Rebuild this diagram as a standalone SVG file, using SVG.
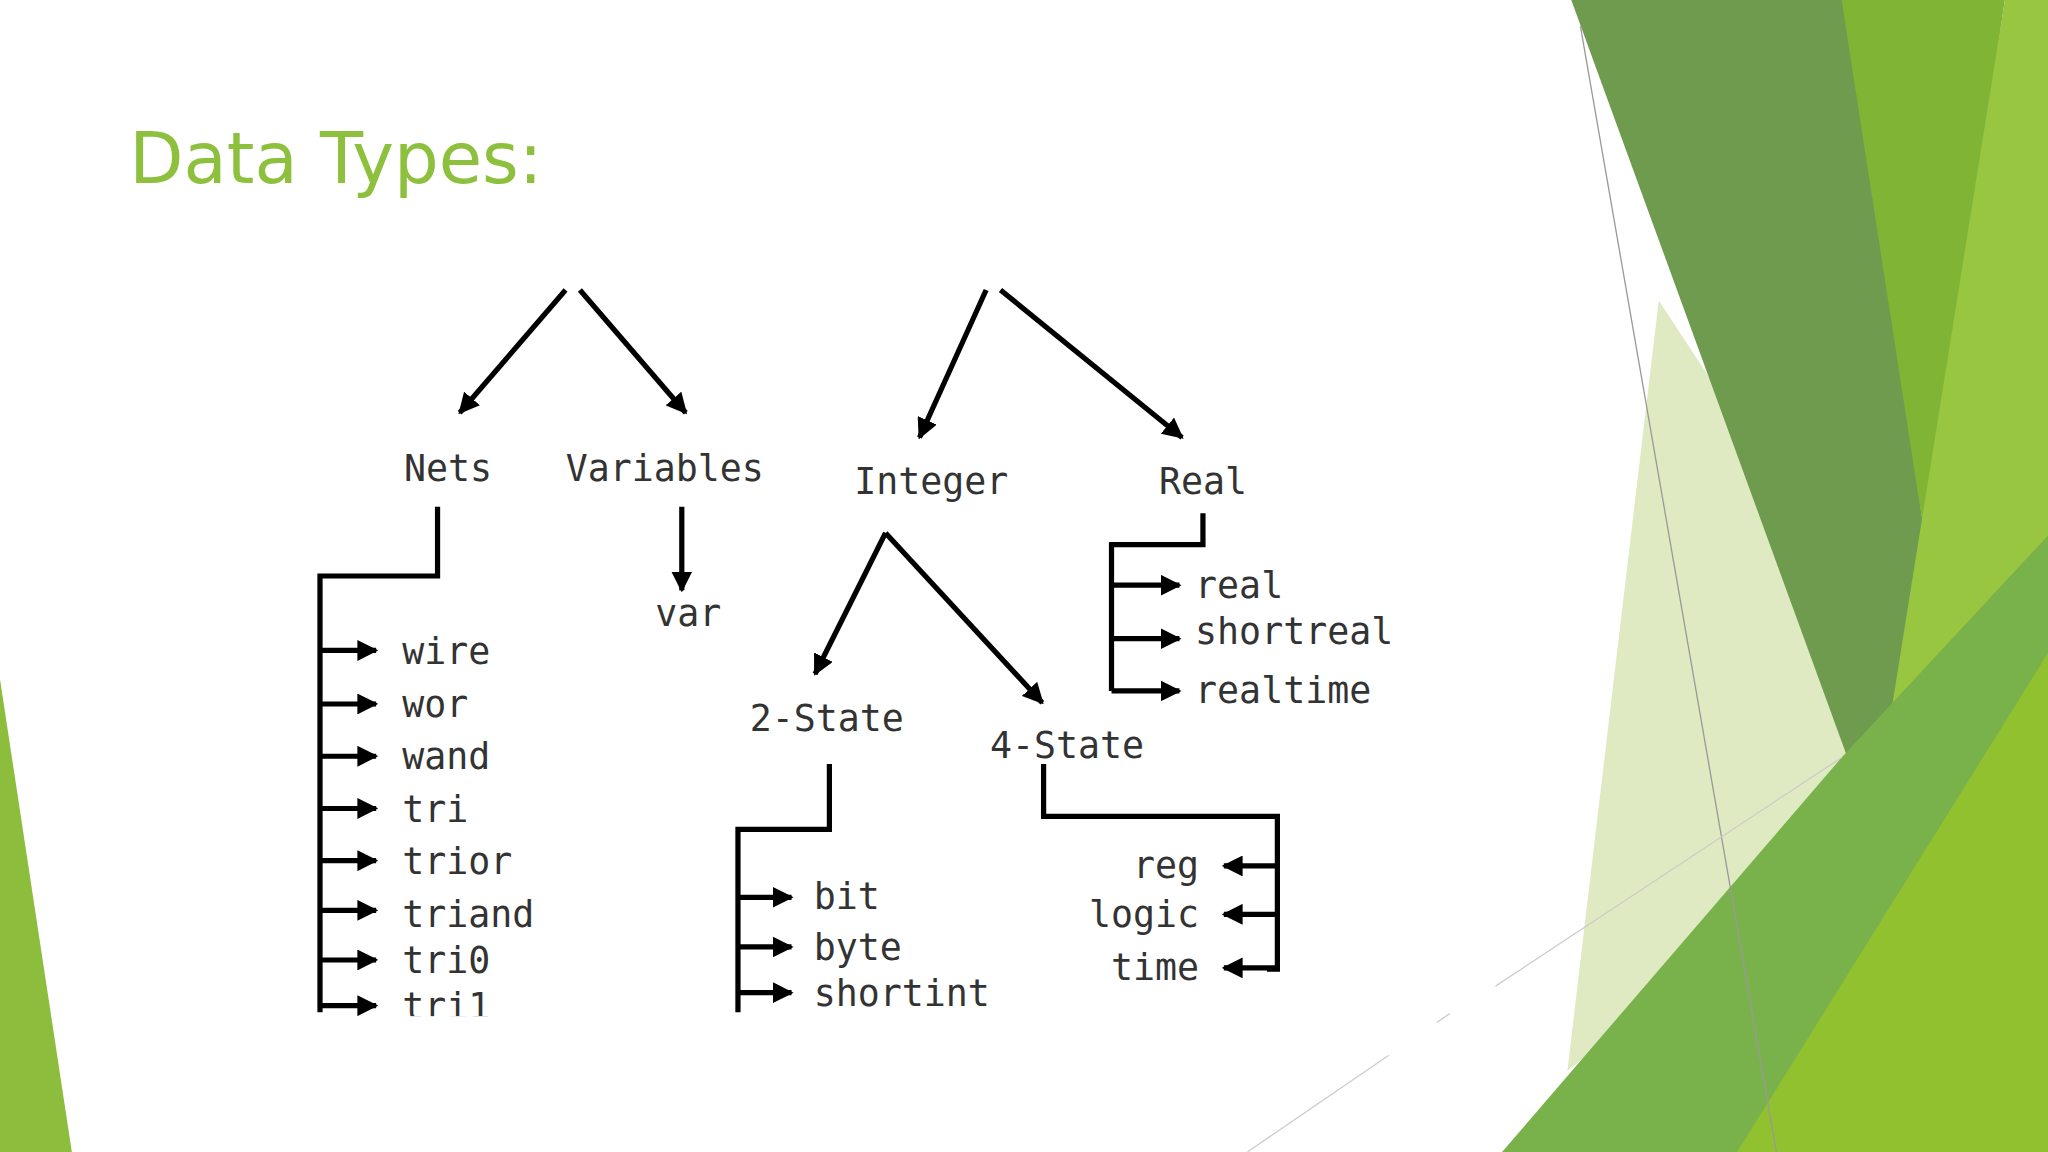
<svg xmlns="http://www.w3.org/2000/svg" width="2048" height="1152" viewBox="0 0 2048 1152">
<defs>
<marker id="ah" viewBox="0 0 10 10" refX="9" refY="5" markerWidth="4" markerHeight="4" orient="auto" markerUnits="strokeWidth"><path d="M0,0 L10,5 L0,10 z" fill="#000"/></marker>
<style>
.c{stroke:#000;stroke-width:4;fill:none}
.a{stroke:#000;stroke-width:4;fill:none;marker-end:url(#ah)}
.t{font-family:"DejaVu Sans Mono","Liberation Mono",monospace;font-size:28px;fill:#333}
.r{text-anchor:end}
.m{text-anchor:middle}
</style>
</defs>
<rect width="2048" height="1152" fill="#fff"/>
<g transform="scale(1.30612)">
<g id="background">
<polygon points="0,520 55,882 0,882" fill="#8dbd3c"/>
<polygon points="1270,230 1500,580 1200,820" fill="#dfeac3"/>
<polygon points="1203,0 1415,0 1475,420 1440,650" fill="#6f9b4e"/>
<polygon points="1410,0 1535,0 1440,650 1475,420" fill="#7fb434"/>
<polygon points="1535,0 1568,0 1568,882 1420,720" fill="#99c640"/>
<polygon points="1150,882 1410,580 1568,410 1568,882" fill="#79b24a"/>
<polygon points="1330,882 1568,500 1568,882" fill="#92c130"/>
<line x1="1210" y1="20" x2="1360" y2="882" stroke="#999" stroke-width="1"/>
<line x1="955" y1="882" x2="1110" y2="776" stroke="#ccc" stroke-width="1"/>
<line x1="1145" y1="755" x2="1410" y2="580" stroke="#ccc" stroke-width="1"/>
</g>
<text id="title" x="99" y="140" font-family="'DejaVu Sans','Noto Sans',sans-serif" font-size="54" fill="#8dc03c">Data Types:</text>
<g id="connectors">
<path class="a" d="M433,222 L352,316"/>
<path class="a" d="M444,222 L525,316"/>
<path class="a" d="M755,222 L704,335"/>
<path class="a" d="M766,222 L905,335"/>
<path class="a" d="M522,388 L522,452"/>
<path class="a" d="M678,408 L624,516"/>
<path class="a" d="M678,408 L798,538"/>
<path class="c" d="M335,388 V441 H245 V775"/>
<path class="a" d="M245,498 H288"/><path class="a" d="M245,539 H288"/><path class="a" d="M245,579 H288"/><path class="a" d="M245,619 H288"/><path class="a" d="M245,659 H288"/><path class="a" d="M245,697 H288"/><path class="a" d="M245,735 H288"/><path class="a" d="M245,770 H288"/>
<path class="c" d="M635,585 V635 H565 V775"/>
<path class="a" d="M565,687 H606"/><path class="a" d="M565,725 H606"/><path class="a" d="M565,760 H606"/>
<path class="c" d="M799,585 V625 H978 V742 H970"/>
<path class="a" d="M978,663 H937"/><path class="a" d="M978,700 H937"/><path class="a" d="M978,741 H937"/>
<path class="c" d="M921,393 V417 H851 V529"/>
<path class="a" d="M851,448 H903"/><path class="a" d="M851,489 H903"/><path class="a" d="M851,529 H903"/>
</g>
<g id="n-nets"><text class="t m" x="343" y="368">Nets</text></g>
<g id="n-variables"><text class="t m" x="509" y="368">Variables</text></g>
<g id="n-integer"><text class="t m" x="713" y="378">Integer</text></g>
<g id="n-real"><text class="t m" x="921" y="378">Real</text></g>
<g id="n-var"><text class="t m" x="527" y="479">var</text></g>
<g id="n-2state"><text class="t m" x="633" y="560">2-State</text></g>
<g id="n-4state"><text class="t m" x="817" y="580">4-State</text></g>
<g id="n-netlist">
<text class="t" x="308" y="508">wire</text><text class="t" x="308" y="549">wor</text><text class="t" x="308" y="589">wand</text><text class="t" x="308" y="629">tri</text><text class="t" x="308" y="669">trior</text><text class="t" x="308" y="710">triand</text><text class="t" x="308" y="745">tri0</text><text class="t" x="308" y="780">tri1</text>
</g>
<g id="n-2list"><text class="t" x="623" y="696">bit</text><text class="t" x="623" y="735">byte</text><text class="t" x="623" y="770">shortint</text></g>
<g id="n-4list"><text class="t r" x="918" y="672">reg</text><text class="t r" x="918" y="710">logic</text><text class="t r" x="918" y="750">time</text></g>
<g id="n-reallist"><text class="t" x="915" y="458">real</text><text class="t" x="915" y="493">shortreal</text><text class="t" x="915" y="538">realtime</text></g>
<rect x="200" y="778" width="900" height="30" fill="#fff"/>
</g>
</svg>
